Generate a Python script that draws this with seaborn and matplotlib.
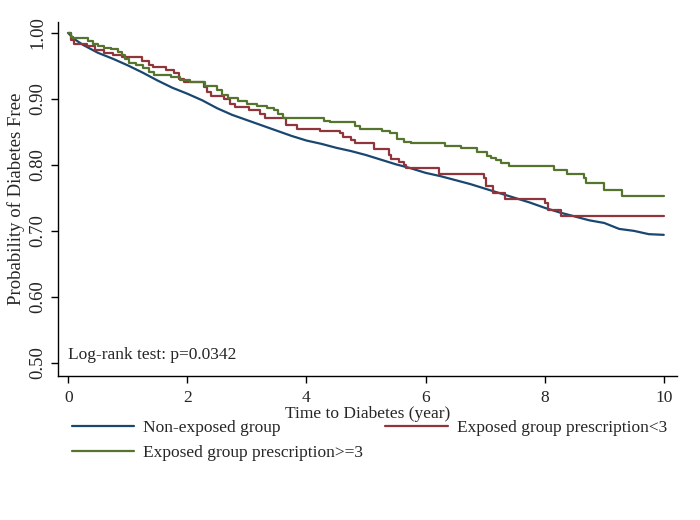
import numpy as np
import pandas as pd
import matplotlib
matplotlib.use("Agg")
import matplotlib.pyplot as plt
import seaborn as sns

# Kaplan-Meier estimates
non_time = [0, 0.1, 0.25, 0.5, 0.75, 1.0, 1.25, 1.5, 1.75, 2.0, 2.25, 2.5, 2.75, 3.0,
            3.25, 3.5, 3.75, 4.0, 4.25, 4.5, 4.75, 5.0, 5.25, 5.5, 5.75, 6.0, 6.25,
            6.5, 6.75, 7.0, 7.25, 7.5, 7.75, 8.0, 8.25, 8.5, 8.75, 9.0, 9.25, 9.5,
            9.75, 10.0]
non_surv = [1.0, 0.991, 0.982, 0.970, 0.961, 0.951, 0.940, 0.928, 0.917, 0.908, 0.898,
            0.886, 0.876, 0.868, 0.860, 0.852, 0.844, 0.837, 0.832, 0.826, 0.821,
            0.815, 0.808, 0.801, 0.795, 0.788, 0.783, 0.777, 0.771, 0.764, 0.757,
            0.750, 0.743, 0.735, 0.728, 0.722, 0.716, 0.712, 0.703, 0.700, 0.695,
            0.694]

lt3_time = [0, 0.05, 0.09, 0.31, 0.45, 0.60, 0.75, 0.90, 1.24, 1.35, 1.43, 1.65, 1.77,
            1.86, 1.95, 2.28, 2.33, 2.40, 2.62, 2.72, 2.80, 3.03, 3.22, 3.30, 3.65,
            3.84, 4.22, 4.56, 4.62, 4.74, 4.82, 5.13, 5.38, 5.42, 5.55, 5.63, 5.67,
            6.22, 6.98, 7.02, 7.14, 7.34, 8.01, 8.05, 8.27, 10.0]
lt3_surv = [1.0, 0.989, 0.984, 0.980, 0.975, 0.970, 0.966, 0.963, 0.957, 0.952, 0.948,
            0.944, 0.940, 0.930, 0.926, 0.918, 0.911, 0.905, 0.900, 0.893, 0.888,
            0.884, 0.878, 0.871, 0.861, 0.855, 0.851, 0.848, 0.843, 0.838, 0.833,
            0.824, 0.815, 0.809, 0.805, 0.800, 0.795, 0.787, 0.780, 0.768, 0.757,
            0.748, 0.742, 0.732, 0.722, 0.722]

ge3_time = [0, 0.04, 0.08, 0.33, 0.42, 0.50, 0.60, 0.72, 0.84, 0.91, 0.96, 1.02, 1.14,
            1.26, 1.35, 1.44, 1.72, 1.88, 2.05, 2.30, 2.50, 2.58, 2.68, 2.85, 3.00,
            3.17, 3.33, 3.45, 3.53, 3.61, 4.30, 4.40, 4.82, 4.90, 5.27, 5.40, 5.52,
            5.63, 5.75, 6.32, 6.60, 6.86, 7.03, 7.10, 7.18, 7.26, 7.40, 8.15, 8.38,
            8.66, 8.70, 9.00, 9.30, 10.0]
ge3_surv = [1.0, 0.994, 0.992, 0.988, 0.984, 0.981, 0.978, 0.976, 0.972, 0.967, 0.960,
            0.955, 0.952, 0.947, 0.941, 0.936, 0.933, 0.929, 0.926, 0.919, 0.914,
            0.906, 0.901, 0.897, 0.893, 0.890, 0.887, 0.884, 0.878, 0.871, 0.867,
            0.865, 0.859, 0.855, 0.851, 0.848, 0.840, 0.835, 0.833, 0.829, 0.825,
            0.820, 0.814, 0.810, 0.807, 0.803, 0.798, 0.792, 0.787, 0.780, 0.772,
            0.762, 0.753, 0.753]

labels = ["Non-exposed group", "Exposed group prescription<3", "Exposed group prescription>=3"]
colors = ["#1a476f", "#90353b", "#55752f"]
x_ticks = [0, 2, 4, 6, 8, 10]
y_ticks = [0.50, 0.60, 0.70, 0.80, 0.90, 1.00]

sns.set_style("ticks")
plt.rcParams['font.family'] = ['Liberation Serif', 'DejaVu Serif']

fig = plt.figure(figsize=(7, 5.2), dpi=100)
ax = fig.add_axes([0.083, 0.277, 0.884, 0.681])

df_non = pd.DataFrame({'time': non_time, 'surv': non_surv})
df_lt3 = pd.DataFrame({'time': lt3_time, 'surv': lt3_surv})
df_ge3 = pd.DataFrame({'time': ge3_time, 'surv': ge3_surv})

sns.lineplot(data=df_non, x='time', y='surv', color=colors[0], lw=1.6,
             estimator=None, ax=ax, label=labels[0])
sns.lineplot(data=df_lt3, x='time', y='surv', color=colors[1], lw=1.6,
             estimator=None, drawstyle='steps-post', ax=ax, label=labels[1])
sns.lineplot(data=df_ge3, x='time', y='surv', color=colors[2], lw=1.6,
             estimator=None, drawstyle='steps-post', ax=ax, label=labels[2])

ax.set_xlim(-0.17, 10.22)
ax.set_ylim(0.48, 1.017)
ax.set_xticks(x_ticks)
ax.set_xticklabels([str(t) for t in x_ticks], fontsize=12.5)
ax.set_yticks(y_ticks)
ax.set_yticklabels(["%.2f" % t for t in y_ticks], fontsize=13.5, rotation=90, va='center')
ax.tick_params(direction='out', length=5, width=1, color='black')
ax.tick_params(axis='x', pad=5)
ax.set_xlabel("Time to Diabetes (year)", fontsize=12.5, labelpad=0)
ax.set_ylabel("Probability of Diabetes Free", fontsize=13.5, labelpad=3)
sns.despine(ax=ax)
for s in ['left', 'bottom']:
    ax.spines[s].set_color('black')
    ax.spines[s].set_linewidth(1)

ax.text(0.0, 0.512, "Log-rank test: p=0.0342", fontsize=12.5, va='center', ha='left')

# legend row-wise like Stata: reorder handles for column filling
h, l = ax.get_legend_handles_labels()
ax.get_legend().remove()
order = [0, 2, 1]
fig.legend([h[i] for i in order], [l[i] for i in order], ncol=2, frameon=False,
           fontsize=12.5, loc='upper left', bbox_to_anchor=(0.08, 0.222),
           handlelength=3.6, columnspacing=1.3, handletextpad=0.5, labelspacing=0.5)

fig.savefig("out.png", dpi=100)
